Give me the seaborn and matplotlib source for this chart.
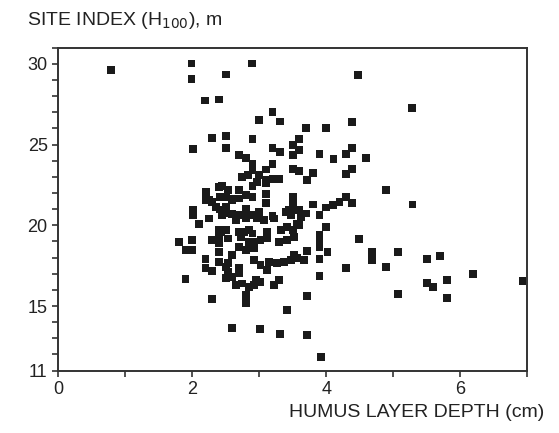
import pandas as pd
import matplotlib.pyplot as plt
import seaborn as sns
from matplotlib.ticker import MultipleLocator

sns.set_theme(style="white")
plt.rcParams['font.family'] = ['Liberation Sans', 'DejaVu Sans']

# humus layer depth (cm) vs site index H100 (m)
humus_depth = [
    0.79, 1.99, 1.99, 2.50, 2.19, 2.40, 2.30, 2.50, 2.01, 2.50,
    2.89, 4.48, 3.20, 3.00, 3.31, 3.70, 4.00, 4.39, 5.28, 2.90,
    3.20, 3.31, 3.60, 3.60, 3.51, 3.90, 4.11, 4.30, 4.39, 4.60,
    4.89, 5.29, 2.70, 2.80, 2.90, 3.20, 2.90, 3.10, 3.50, 3.60,
    3.81, 3.71, 4.39, 4.30, 2.75, 3.00, 3.20, 3.30, 3.10, 2.90,
    2.45, 2.70, 2.80, 2.50, 2.63, 3.10, 3.10, 3.50, 3.50, 3.80,
    4.30, 4.39, 4.20, 4.10, 4.00, 3.90, 3.40, 3.60, 3.70, 3.00,
    3.20, 2.80, 2.80, 2.50, 2.60, 2.70, 2.21, 2.40, 2.20, 2.30,
    2.01, 2.01, 2.41, 2.10, 1.80, 2.00, 1.90, 2.00, 2.20, 2.20,
    2.30, 1.90, 2.30, 2.30, 2.40, 2.40, 2.50, 2.50, 2.25, 2.45,
    2.43, 2.50, 4.00, 3.90, 3.90, 3.90, 4.02, 3.90, 3.90, 3.71,
    3.71, 3.42, 2.81, 2.60, 3.01, 3.31, 3.71, 3.92, 4.49, 4.69,
    4.69, 4.30, 4.89, 5.07, 5.07, 5.51, 5.70, 5.51, 5.60, 5.80,
    5.80, 6.19, 6.93,
    2.84, 2.53, 2.42, 2.60, 2.70, 2.90, 2.35, 2.55, 2.25,
    3.51, 3.10, 2.97, 3.45, 3.52, 3.48, 3.62,
    2.40, 2.40, 2.53, 2.53, 2.60, 2.70, 2.73, 2.77, 2.85, 2.85,
    2.92, 2.53, 2.60, 2.70, 2.70, 2.65, 2.75, 2.85, 2.80, 2.95,
    2.65, 2.80, 2.90,
    2.97, 3.07, 3.22, 3.57, 3.12, 3.32, 3.42, 3.50, 3.02, 3.12,
    3.30, 3.42, 3.52, 2.92, 2.92, 3.02, 3.15, 3.27, 3.37, 3.47,
    3.57, 3.52, 3.12, 2.92, 3.02, 3.22, 3.30, 3.67,
    2.70, 2.90, 3.60, 2.40, 2.80,
]
site_index = [
    29.60, 30.02, 29.05, 29.34, 27.73, 27.79, 25.43, 25.55, 24.72, 24.81,
    30.02, 29.30, 27.01, 26.50, 26.43, 26.04, 26.02, 26.37, 27.24, 25.32,
    24.81, 24.54, 25.32, 24.64, 24.99, 24.44, 24.13, 24.44, 24.78, 24.19,
    22.17, 21.29, 24.33, 24.19, 23.82, 23.82, 23.41, 23.45, 23.51, 23.36,
    23.24, 22.79, 23.51, 23.16, 22.99, 23.10, 22.85, 22.85, 22.62, 22.42,
    22.42, 22.21, 21.86, 21.76, 21.66, 21.92, 21.38, 21.76, 21.24, 21.29,
    21.76, 21.38, 21.45, 21.24, 21.10, 20.62, 20.83, 20.93, 20.73, 20.83,
    20.56, 21.04, 20.73, 21.14, 20.69, 20.62, 22.06, 22.37, 21.59, 21.43,
    20.93, 20.62, 20.98, 20.07, 18.94, 19.08, 18.46, 18.46, 17.89, 17.33,
    17.18, 16.65, 15.45, 19.08, 18.88, 17.74, 17.43, 16.71, 21.55, 20.62,
    19.59, 19.70, 19.90, 19.39, 18.97, 18.67, 18.36, 17.89, 16.85, 18.40,
    15.62, 14.75, 15.20, 13.62, 13.56, 13.27, 13.19, 11.87, 19.14, 18.36,
    17.84, 17.33, 17.43, 18.32, 15.72, 17.92, 18.11, 16.44, 16.19, 16.61,
    15.49, 16.98, 16.53,
    23.10, 22.17, 21.76, 21.55, 21.66, 21.76, 21.14, 20.73, 20.42,
    24.33, 22.79, 22.68, 20.93, 20.93, 20.62, 20.52,
    19.26, 19.70, 19.18, 17.64, 18.15, 18.67, 19.28, 19.59, 19.70, 18.97,
    18.97, 17.12, 16.81, 17.02, 17.33, 16.30, 16.40, 16.19, 15.68, 16.61,
    20.32, 20.42, 20.62,
    20.42, 20.31, 20.42, 20.11, 19.59, 19.70, 19.90, 19.70, 19.08, 19.18,
    18.97, 19.08, 19.28, 18.57, 17.84, 17.53, 17.74, 17.64, 17.74, 17.84,
    17.95, 18.15, 17.23, 16.30, 16.50, 16.30, 16.61, 17.84,
    19.59, 19.49, 20.00, 18.36, 18.46,
]
y_ticks = [11, 15, 20, 25, 30]
x_ticks = [0, 2, 4, 6]

df = pd.DataFrame({'depth': humus_depth, 'site': site_index})

fig = plt.figure(figsize=(5.59, 4.33), dpi=100)
ax = fig.add_axes([0.104, 0.144, 0.839, 0.746])
sns.scatterplot(data=df, x='depth', y='site', marker='s', s=32,
                color='#1a1a1a', edgecolor='none', ax=ax)

ax.set_xlim(0, 7)
ax.set_ylim(11, 31)
ax.set_xticks(x_ticks)
ax.set_yticks(y_ticks)
ax.xaxis.set_minor_locator(MultipleLocator(1))
ax.yaxis.set_minor_locator(MultipleLocator(1))
ax.tick_params(which='both', direction='out', length=4, width=1.2,
               color='#333333', labelsize=13, labelcolor='#222222',
               bottom=True, left=True)
for sp in ax.spines.values():
    sp.set_color('#333333')
    sp.set_linewidth(1.4)
ax.set_xlabel('')
ax.set_ylabel('')

fig.text(0.048, 0.953, 'SITE INDEX (H$_{100}$), m', fontsize=14,
         color='#222222', ha='left', va='center')
fig.text(0.973, 0.047, 'HUMUS LAYER DEPTH (cm)', fontsize=14,
         color='#222222', ha='right', va='center')

plt.savefig('out.png', dpi=100)
plt.close()
